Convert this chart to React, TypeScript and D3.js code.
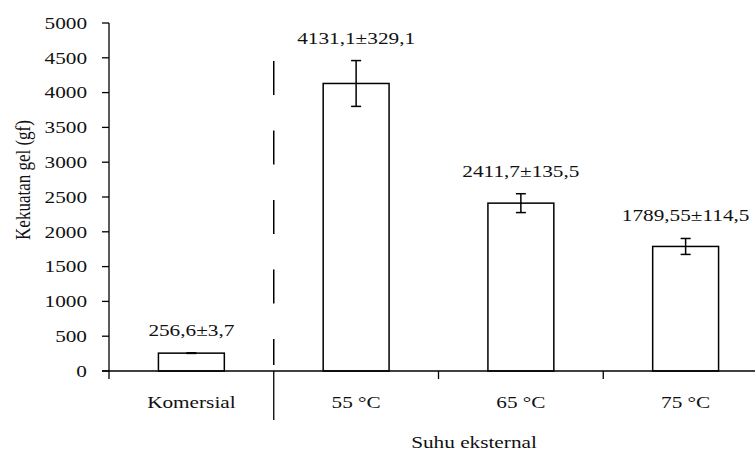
import React from "react";
import * as d3 from "d3";

const categories = ["Komersial", "55 °C", "65 °C", "75 °C"];
const means = [256.6, 4131.1, 2411.7, 1789.55];
const errors = [3.7, 329.1, 135.5, 114.5];
const valueLabels = ["256,6±3,7", "4131,1±329,1", "2411,7±135,5", "1789,55±114,5"];
const yTicks = [0, 500, 1000, 1500, 2000, 2500, 3000, 3500, 4000, 4500, 5000];
const yTitle = "Kekuatan gel (gf)";
const xTitle = "Suhu eksternal";

const W = 755;
const H = 452;
const FONT = '"Liberation Serif", "DejaVu Serif", "Times New Roman", Times, serif';
const FS = 17;
const SX = 1.25;

export default function App() {
  const left = 109;
  const top = 23;
  const bottom = 371;
  const step = 164.75;
  const x = d3
    .scaleBand<string>()
    .domain(categories)
    .range([left, left + step * categories.length])
    .paddingInner(0.6)
    .paddingOuter(0.3);
  const y = d3.scaleLinear().domain([0, 5000]).range([bottom, top]);
  const realStep = x.step();
  const boundaries = d3.range(categories.length + 1).map((i) => left + i * realStep);
  const sepX = boundaries[1];
  const cap = 5;
  const textStyle = { fontFamily: FONT, fontSize: FS } as React.CSSProperties;

  return (
    <svg
      width={W}
      height={H}
      style={{ position: "absolute", left: 0, top: 0, background: "#fff", fontFamily: FONT }}
    >
      <rect x={0} y={0} width={W} height={H} fill="#fff" />
      {yTicks.map((t) => (
        <g key={t}>
          <line x1={left - 7} x2={left} y1={y(t)} y2={y(t)} stroke="#000" strokeWidth={1.3} />
          <text style={textStyle} transform={`translate(87,${y(t) + 5.8}) scale(${SX},1)`} textAnchor="end" fill="#111">
            {t}
          </text>
        </g>
      ))}
      <line x1={left} x2={left} y1={top} y2={bottom} stroke="#000" strokeWidth={1.3} />
      {categories.map((c, i) => (
        <rect
          key={c}
          x={x(c)}
          y={y(means[i])}
          width={x.bandwidth()}
          height={bottom - y(means[i])}
          fill="#fff"
          stroke="#000"
          strokeWidth={1.5}
        />
      ))}
      {categories.map((c, i) => {
        const cx = (x(c) as number) + x.bandwidth() / 2;
        const y1 = y(means[i] + errors[i]);
        const y2 = y(means[i] - errors[i]);
        return (
          <g key={c} stroke="#000" strokeWidth={1.5}>
            <line x1={cx} x2={cx} y1={y1} y2={y2} />
            <line x1={cx - cap} x2={cx + cap} y1={y1} y2={y1} />
            <line x1={cx - cap} x2={cx + cap} y1={y2} y2={y2} />
          </g>
        );
      })}
      {categories.map((c, i) => {
        const cx = (x(c) as number) + x.bandwidth() / 2;
        const ly = y(means[i] + errors[i]) - 17;
        return (
          <text key={c} style={textStyle} transform={`translate(${cx},${ly}) scale(${SX},1)`} textAnchor="middle" fill="#111">
            {valueLabels[i]}
          </text>
        );
      })}
      <line x1={left - 7} x2={W} y1={bottom} y2={bottom} stroke="#000" strokeWidth={1.3} />
      {boundaries.map((bx, i) => (
        <line key={i} x1={bx} x2={bx} y1={bottom} y2={i === 1 ? 420 : bottom + 8} stroke="#000" strokeWidth={1.3} />
      ))}
      <line
        x1={sepX}
        x2={sepX}
        y1={61}
        y2={365}
        stroke="#000"
        strokeWidth={1.5}
        strokeDasharray="34,35.5"
      />
      {categories.map((c) => (
        <text
          key={c}
          style={textStyle}
          transform={`translate(${(x(c) as number) + x.bandwidth() / 2},408) scale(${SX},1)`}
          textAnchor="middle"
          fill="#111"
        >
          {c}
        </text>
      ))}
      <text style={textStyle} transform={`translate(474,448) scale(${SX},1)`} textAnchor="middle" fill="#111">
        {xTitle}
      </text>
      <text style={textStyle} transform={`translate(30,180) scale(${SX},1) rotate(-90)`} textAnchor="middle" fill="#111">
        {yTitle}
      </text>
    </svg>
  );
}
